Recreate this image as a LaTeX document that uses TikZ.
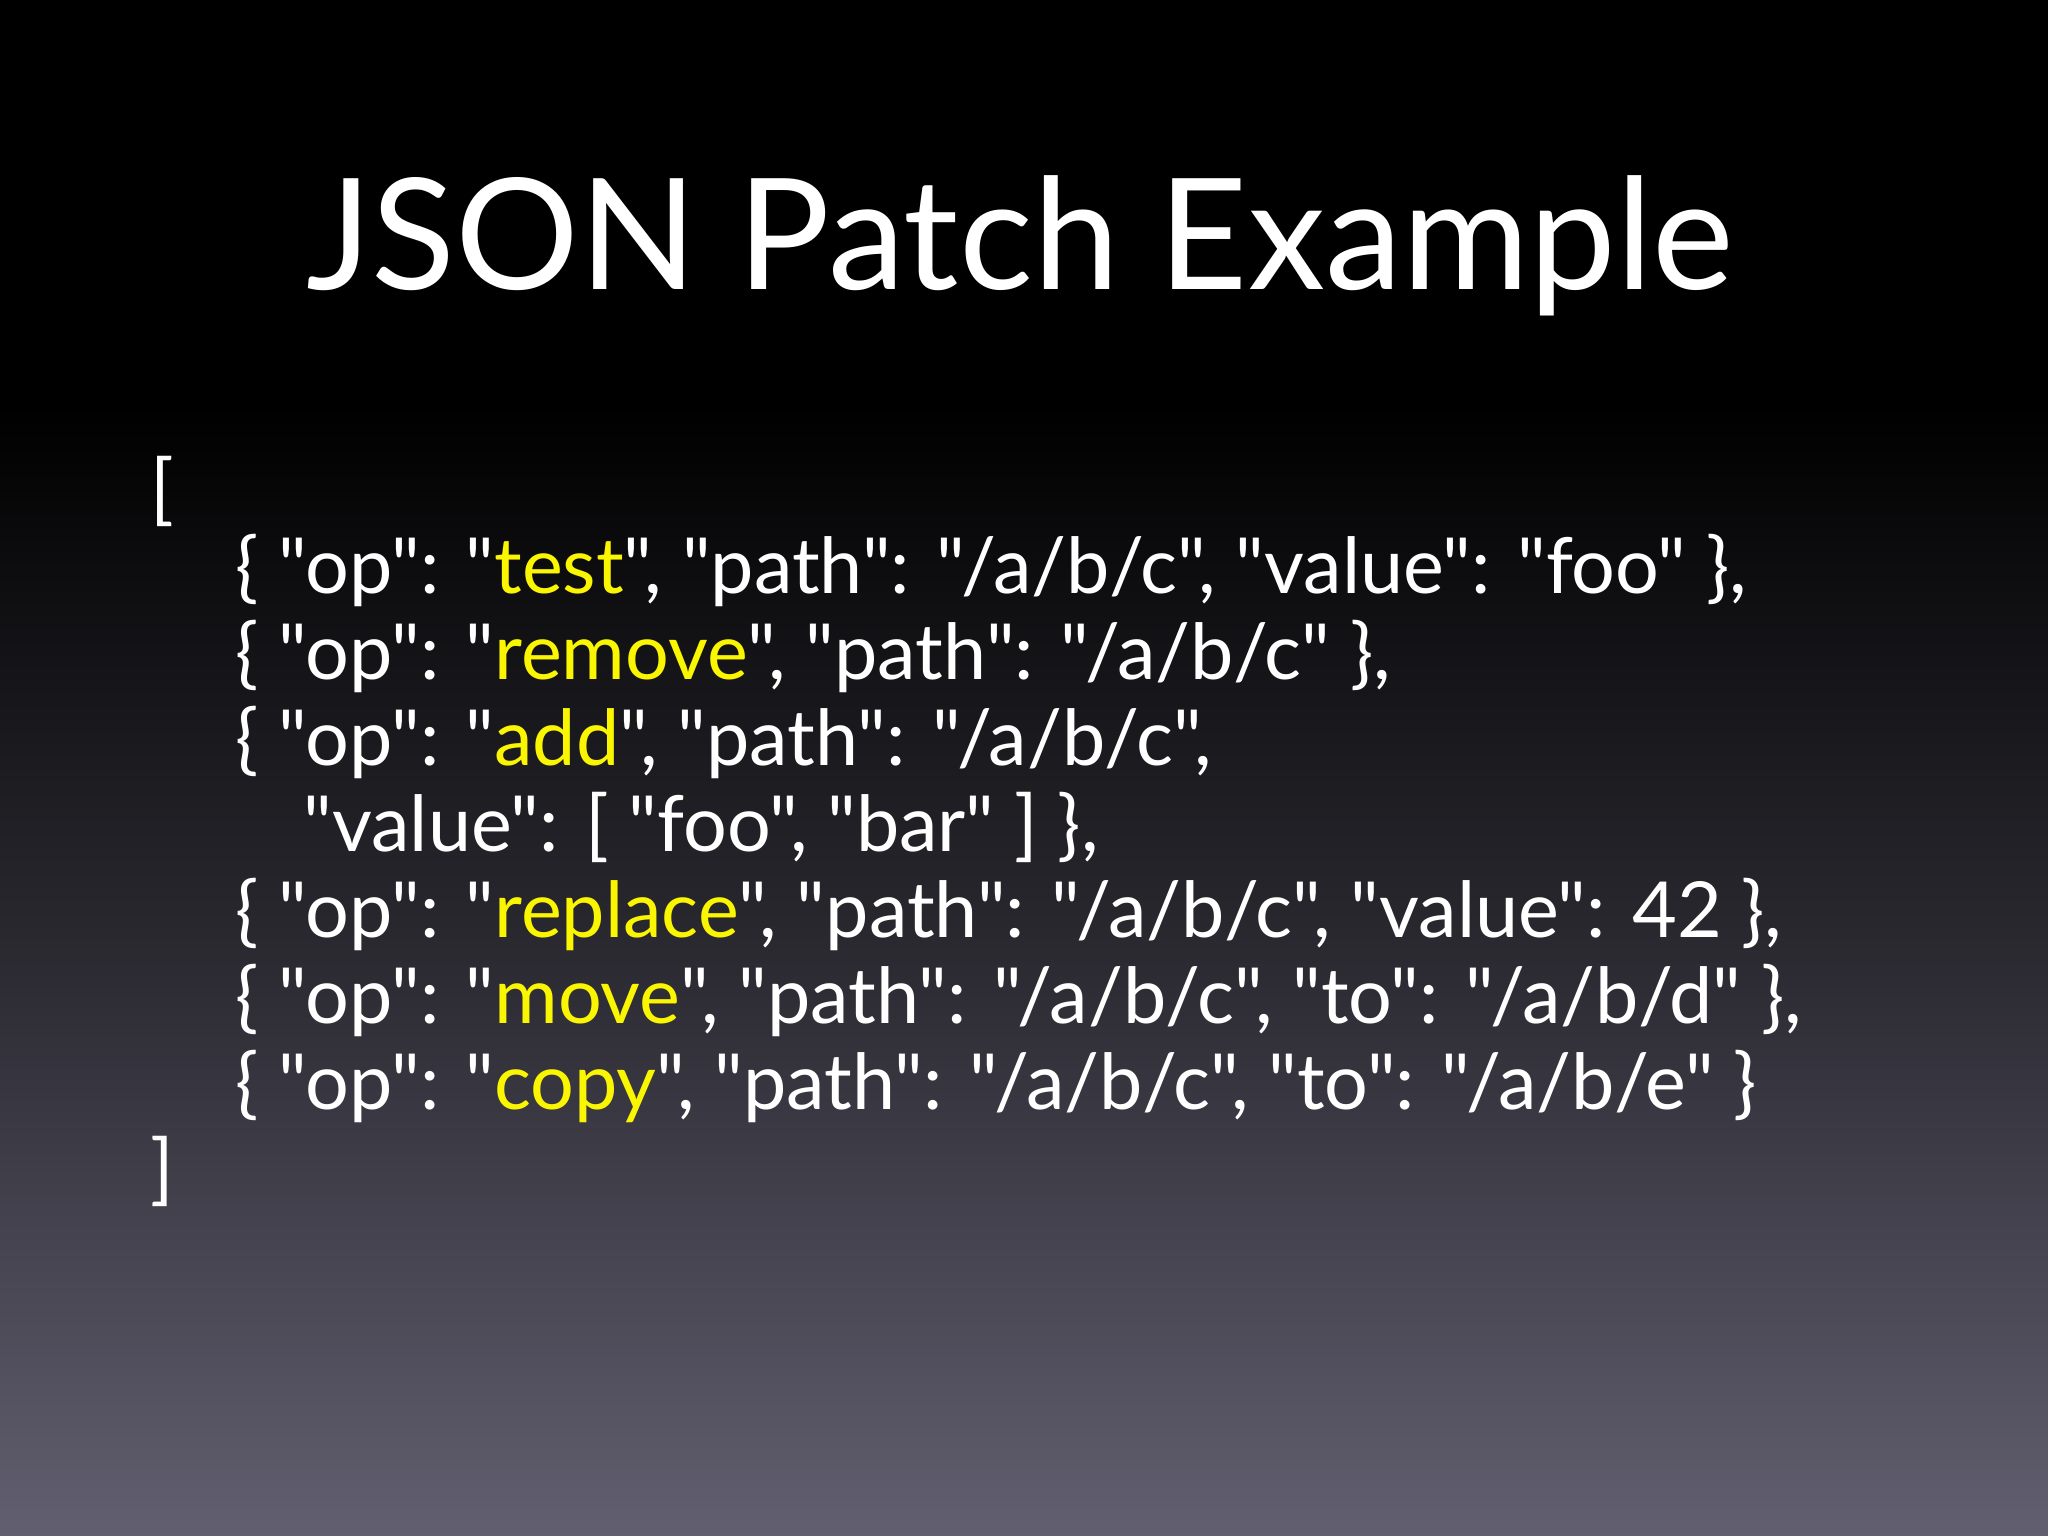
\documentclass[tikz,border=0pt]{standalone}
\usepackage{fontspec}
\setmainfont{Lato}[Ligatures=TeXOff]
\definecolor{bgbot}{RGB}{98,95,112}
\definecolor{hl}{RGB}{250,245,0}
\begin{document}
\begin{tikzpicture}[x=1cm,y=1cm,
  code/.style={anchor=base west,inner sep=0pt,text=white,font=\fontsize{22}{26}\selectfont}]
\useasboundingbox (0,0) rectangle (20.48,15.36);
\fill[black] (0,11.3) rectangle (20.48,15.36);
\shade[top color=black,bottom color=bgbot,middle color=black!55!bgbot] (0,0) rectangle (20.48,11.31);
\node[anchor=base,inner sep=0pt,text=white,font=\fontsize{44}{52}\selectfont] (title) at (10.2,12.46) {JSON Patch Example};
\node[code] (l0) at (1.5,10.2) {[};
\node[code] (l1) at (2.35,9.42) {\{ "op": "\textcolor{hl}{test}", "path": "/a/b/c", "value": "foo" \},};
\node[code] (l2) at (2.35,8.56) {\{ "op": "\textcolor{hl}{remove}", "path": "/a/b/c" \},};
\node[code] (l3) at (2.35,7.70) {\{ "op": "\textcolor{hl}{add}", "path": "/a/b/c",};
\node[code] (l4) at (3.03,6.84) {"value": [ "foo", "bar" ] \},};
\node[code] (l5) at (2.35,5.98) {\{ "op": "\textcolor{hl}{replace}", "path": "/a/b/c", "value": 42 \},};
\node[code] (l6) at (2.35,5.12) {\{ "op": "\textcolor{hl}{move}", "path": "/a/b/c", "to": "/a/b/d" \},};
\node[code] (l7) at (2.35,4.26) {\{ "op": "\textcolor{hl}{copy}", "path": "/a/b/c", "to": "/a/b/e" \}};
\node[code] (l8) at (1.5,3.40) {]};
\end{tikzpicture}
\end{document}
